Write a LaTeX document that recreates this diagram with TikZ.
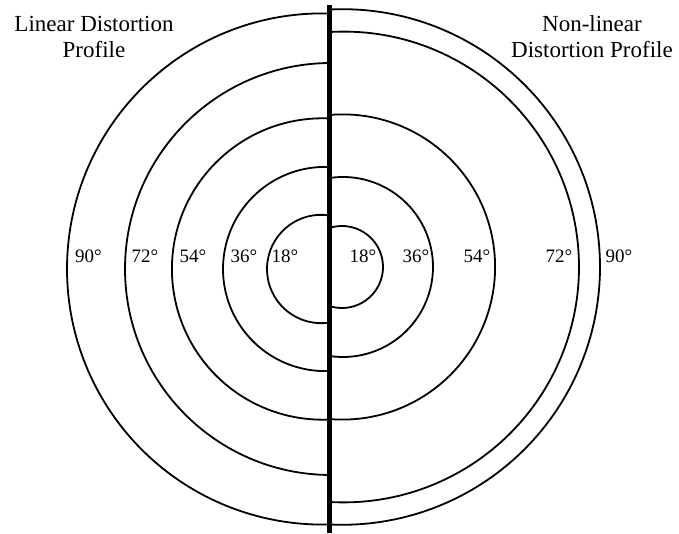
\documentclass[tikz,border=0pt]{standalone}
\usepackage{fontspec}
\setmainfont{Liberation Serif}
\usetikzlibrary{calc}
\tikzset{
  ring/.style={line width=1.8pt, draw=black},
  divider/.style={line width=5pt, draw=black},
  deglbl/.style={font=\fontsize{19}{22}\selectfont, inner sep=0pt},
  ttl/.style={font=\fontsize{23}{26}\selectfont, align=center, inner sep=0pt, anchor=north},
}

\begin{document}
\begin{tikzpicture}[x=1pt,y=1pt]
  \useasboundingbox (0,0) rectangle (679,533);
  \coordinate (top) at (329.5,528);
  \coordinate (bot) at (329.5,0);
  % linear profile, left half
  \foreach \deg/\cx/\r/\lx in {18/321.2/54.2/285, 36/325.1/102.1/244, 54/322.6/150.7/193, 72/331/206/145, 90/322.6/255.6/88.5} {
    \pgfmathsetmacro{\b}{acos((329.5-\cx)/\r)}
    \coordinate (lc\deg) at (\cx,264);
    \draw[ring] ([shift={(\b:\r)}]lc\deg) arc[start angle=\b, end angle=360-\b, radius=\r];
    \node[deglbl] (l\deg) at (\lx,277) {\deg°};
  }
  % non-linear profile, right half
  \foreach \deg/\cx/\r/\lx in {18/342/41/363, 36/343/90/416, 54/342.5/152.6/477, 72/343.6/235.4/559, 90/342.2/257.8/619} {
    \pgfmathsetmacro{\b}{acos((\cx-329.5)/\r)}
    \coordinate (rc\deg) at (\cx,266);
    \draw[ring] ([shift={(180-\b:\r)}]rc\deg) arc[start angle=180-\b, end angle=\b-180, radius=\r];
    \node[deglbl] (r\deg) at (\lx,277) {\deg°};
  }
  \draw[divider] (top) -- (bot);
  \node[ttl] (lin) at (94,517) {Linear Distortion\\Profile};
  \node[ttl] (nonlin) at (592,518) {Non-linear\\Distortion Profile};
\end{tikzpicture}
\end{document}
